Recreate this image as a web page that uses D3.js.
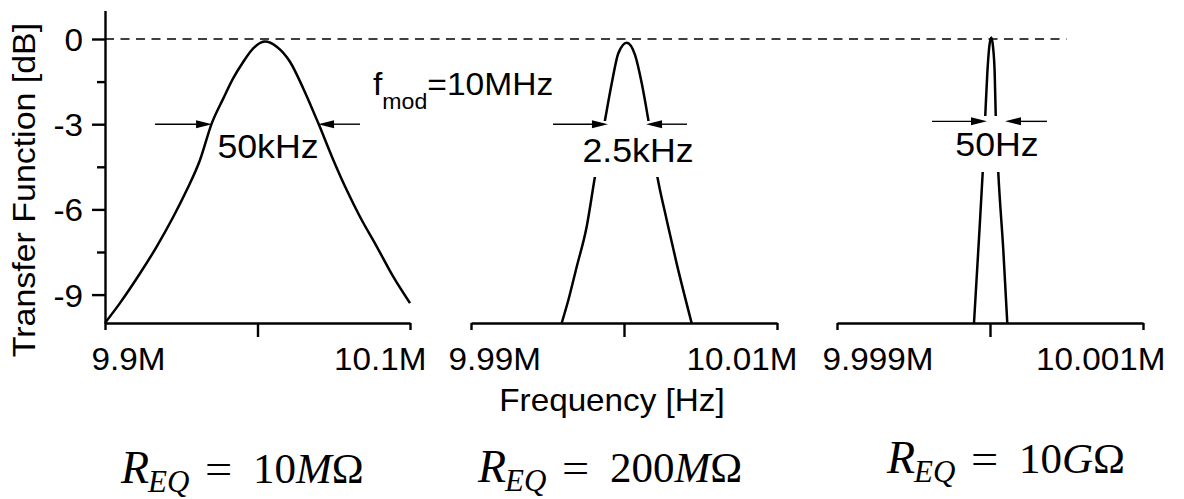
<!DOCTYPE html>
<html><head><meta charset="utf-8">
<script src="https://cdn.jsdelivr.net/npm/d3@7"></script>
<style>
body{margin:0;background:#fff}
svg{display:block}
text{fill:#000}
.sans{font-family:"Liberation Sans",Arial,Helvetica,sans-serif}
.serif{font-family:"Liberation Serif","Times New Roman",serif}
</style>
</head><body>
<svg id="chart" width="1184" height="499" class="sans"></svg>
<script>
// ---------------- data ----------------
const fmod = 10e6;                       // Hz
const yDomain = [-10, 1];
const yTicksMajor = [0, -3, -6, -9];
const yTicksMinor = [-1.5, -4.5, -7.5];

// panel 1 : R_EQ = 10 MOhm  (offsets in kHz)
const p1Ticks = [9.9e6, 10.0e6, 10.1e6];
const p1TickLabels = ["9.9M", "", "10.1M"];
const p1OffsetKHz = [-100, -90.2, -77.0, -66.1, -55.2, -46.4, -37.7, -30.0, -22.4, -15.9, -9.3, -2.8, 4.9, 12.6, 21.3, 30.0, 39.9, 49.7, 58.5, 67.2, 78.2, 89.0, 100];
const p1dB        = [-10, -9.3, -8.25, -7.31, -6.26, -5.32, -4.26, -2.97, -2.09, -1.38, -0.8, -0.33, -0.09, -0.27, -0.8, -1.74, -2.97, -4.26, -5.32, -6.26, -7.31, -8.37, -9.3];
const p1ArrowTailKHz = [-67.2, 67.2];
const p1ArrowTipKHz  = [-29.8, 39.7];
const p1ArrowDB = -3;

// panel 2 : R_EQ = 200 MOhm (offsets in kHz)
const p2Ticks = [9.99e6, 10.0e6, 10.01e6];
const p2TickLabels = ["9.99M", "", "10.01M"];
const p2OffsetKHz = [-4.07, -3.64, -3.09, -2.44, -1.90, -1.24, -0.80, -0.37, 0.18, 0.72, 1.16, 1.59, 2.18, 2.79, 3.44, 4.42];
const p2dB        = [-10, -9.2, -8.02, -6.61, -4.85, -2.85, -1.56, -0.5, -0.13, -0.56, -1.56, -2.85, -4.85, -6.37, -7.9, -10];
const p2ArrowTailKHz = [-4.64, 4.12];
const p2ArrowTipKHz  = [-1.05, 1.44];
const p2ArrowDB = -3;

// panel 3 : R_EQ = 10 GOhm (offsets in Hz)
const p3Ticks = [9.999e6, 10.0e6, 10.001e6];
const p3TickLabels = ["9.999M", "", "10.001M"];
const p3OffsetHz = [-104.6, -76.5, -47.7, -30.7, -17.6, -4.6, 8.5, 19.6, 30.7, 37.3, 54.2, 86.9, 113.0];
const p3dB       = [-10, -7.43, -4.7, -2.67, -1.21, -0.27, 0.05, -0.27, -1.21, -2.67, -4.7, -7.43, -10];
const p3ArrowTailHz = [-379, 372.6];
const p3ArrowTipHz  = [-19.6, 98];
const p3ArrowDB = -2.9;

const bandwidthLabels = ["50kHz", "2.5kHz", "50Hz"];
const reqValues = ["10", "200", "10"];
const reqUnits = ["M", "M", "G"];
const dashedEndHz = 10.0005e6;

// ---------------- layout ----------------
const svg = d3.select("#chart");
const SX = 1.04;            // slight horizontal text stretch of the original
const black = "#000";

const y = d3.scaleLinear().domain(yDomain).range([323, 10.6]);

const panels = [
  {range:[105,410], ticks:p1Ticks, labels:p1TickLabels, off:p1OffsetKHz, unit:1e3, db:p1dB,
   tails:p1ArrowTailKHz, tips:p1ArrowTipKHz, adb:p1ArrowDB, ldx:[-14,16],
   bw:bandwidthLabels[0], bwX:268, bwY:158, mask:null},
  {range:[471,777], ticks:p2Ticks, labels:p2TickLabels, off:p2OffsetKHz, unit:1e3, db:p2dB,
   tails:p2ArrowTailKHz, tips:p2ArrowTipKHz, adb:p2ArrowDB, ldx:[-23,20],
   bw:bandwidthLabels[1], bwX:638, bwY:162, mask:[579,121,119,56]},
  {range:[837,1143], ticks:p3Ticks, labels:p3TickLabels, off:p3OffsetHz, unit:1, db:p3dB,
   tails:p3ArrowTailHz, tips:p3ArrowTipHz, adb:p3ArrowDB, ldx:[-15,22],
   bw:bandwidthLabels[2], bwX:997, bwY:156, mask:[952,116,92,56]}
];
panels.forEach(p => { p.x = d3.scaleLinear().domain([p.ticks[0], p.ticks[2]]).range(p.range); });

// dashed 0 dB reference line
svg.append("line")
  .attr("x1", panels[0].x(panels[0].ticks[0])).attr("x2", panels[2].x(dashedEndHz))
  .attr("y1", y(0)).attr("y2", y(0))
  .attr("stroke", black).attr("stroke-width", 1.6).attr("stroke-dasharray", "9,6.5");

// y axis
const yAxisG = svg.append("g").attr("transform", "translate(105,0)");
yAxisG.call(d3.axisLeft(y).tickValues(yTicksMajor).tickSize(13).tickSizeOuter(0).tickFormat(d => String(d)));
yAxisG.append("g").call(d3.axisLeft(y).tickValues(yTicksMinor).tickSize(8).tickFormat(""))
  .select(".domain").remove();
yAxisG.selectAll("path,line").attr("stroke", black).attr("stroke-width", 2.4);
yAxisG.selectAll("text").attr("x", null).attr("dy", "0.36em")
  .attr("transform", `translate(-22,0) scale(${SX},1)`)
  .attr("class", "sans").style("font-size", "32px").attr("fill", black).attr("text-anchor", "end");

// y axis title
svg.append("text").attr("class", "sans").attr("transform", `translate(35,190) rotate(-90) scale(1.06,1)`)
  .attr("text-anchor", "middle").style("font-size", "32px").text("Transfer Function [dB]");

const line = d3.line().curve(d3.curveMonotoneX);

panels.forEach((p, i) => {
  // x axis
  const g = svg.append("g").attr("transform", `translate(0,${y(yDomain[0])})`);
  g.call(d3.axisBottom(p.x).tickValues(p.ticks).tickSizeInner(7).tickSizeOuter(0)
    .tickFormat((d, j) => p.labels[j]));
  g.selectAll(".tick line").attr("y2", (d, j) => j === 1 ? 14 : 7);
  g.selectAll("path,line").attr("stroke", black).attr("stroke-width", 2.4);
  g.selectAll("text").attr("y", null).attr("dy", null).attr("class", "sans")
    .attr("text-anchor", (d, j) => j === 0 ? "start" : "end")
    .attr("transform", (d, j) => `translate(${j === 0 ? p.ldx[0] : p.ldx[1]},47) scale(${SX},1)`)
    .style("font-size", "32px").attr("fill", black);

  // curve
  const pts = p.off.map((o, k) => [p.x(fmod + o * p.unit), y(p.db[k])]);
  svg.append("path").attr("d", line(pts)).attr("fill", "none")
    .attr("stroke", black).attr("stroke-width", 2.5).attr("stroke-linejoin", "round");

  // white mask behind bandwidth label
  if (p.mask) {
    svg.append("rect").attr("x", p.mask[0]).attr("y", p.mask[1])
      .attr("width", p.mask[2]).attr("height", p.mask[3]).attr("fill", "#fff");
  }

  // -3 dB arrows
  p.tails.forEach((t, k) => {
    const x0 = p.x(fmod + t * p.unit), x1 = p.x(fmod + p.tips[k] * p.unit), yy = y(p.adb);
    const dir = Math.sign(x1 - x0), hl = 16, hw = 4;
    svg.append("line").attr("x1", x0).attr("x2", x1 - dir * hl).attr("y1", yy).attr("y2", yy)
      .attr("stroke", black).attr("stroke-width", 1.4);
    svg.append("path").attr("d", `M${x1},${yy}L${x1 - dir * hl},${yy - hw}L${x1 - dir * hl},${yy + hw}Z`)
      .attr("fill", black);
  });

  // bandwidth label
  svg.append("text").attr("class", "sans").attr("transform", `translate(${p.bwX},${p.bwY}) scale(1.05,1)`)
    .attr("text-anchor", "middle").style("font-size", "34px").text(p.bw);
});

// f_mod label
const fm = svg.append("text").attr("class", "sans").attr("transform", `translate(373,95) scale(1.05,1)`).style("font-size", "32px");
fm.append("tspan").text("f");
fm.append("tspan").attr("dy", 14).style("font-size", "22px").text("mod");
fm.append("tspan").attr("dy", -14).text("=10MHz");

// x axis title
svg.append("text").attr("class", "sans").attr("transform", `translate(612,411) scale(${SX},1)`)
  .attr("text-anchor", "middle").style("font-size", "32px").text("Frequency [Hz]");

// R_EQ labels
const reqPos = [[121, 483], [478, 482], [887, 473]];
reqValues.forEach((v, i) => {
  const [x0, y0] = reqPos[i];
  const g = svg.append("g");
  g.append("text").attr("class", "serif").attr("x", x0).attr("y", y0).style("font-size", "46px").style("font-style", "italic").text("R");
  g.append("text").attr("class", "serif").attr("x", x0 + 27).attr("y", y0 + 9).style("font-size", "31px").style("font-style", "italic").text("EQ");
  g.append("text").attr("class", "serif").attr("x", x0 + 84).attr("y", y0).style("font-size", "42px")
    .attr("transform", `translate(${x0 + 84},0) scale(1.15,1) translate(${-(x0 + 84)},0)`).text("=");
  const t = g.append("text").attr("class", "serif").attr("x", x0 + 132).attr("y", y0).style("font-size", "43px");
  t.append("tspan").text(v);
  t.append("tspan").style("font-style", "italic").text(reqUnits[i]);
  t.append("tspan").text("Ω");
});
</script>
</body></html>
